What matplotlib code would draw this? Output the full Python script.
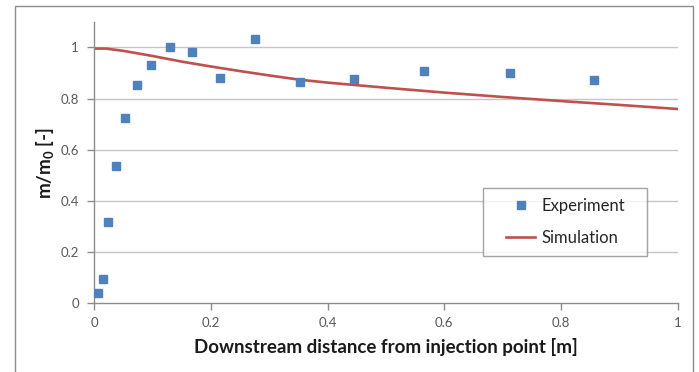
import matplotlib
matplotlib.use("Agg")
import matplotlib.pyplot as plt
from matplotlib.patches import Rectangle
from matplotlib.legend_handler import HandlerLine2D

# Data
exp_x = [0.007, 0.015, 0.024, 0.037, 0.053, 0.073, 0.098, 0.129, 0.168, 0.216,
         0.276, 0.352, 0.446, 0.565, 0.712, 0.857]
exp_y = [0.041, 0.095, 0.318, 0.538, 0.725, 0.854, 0.930, 1.000, 0.980, 0.881,
         1.031, 0.864, 0.877, 0.907, 0.900, 0.872]
sim_x = [0.0, 0.02, 0.05, 0.1, 0.15, 0.2, 0.25, 0.3, 0.35, 0.4, 0.5, 0.6, 0.7,
         0.8, 0.9, 1.0]
sim_y = [0.995, 0.995, 0.986, 0.966, 0.944, 0.925, 0.907, 0.890, 0.874, 0.862,
         0.842, 0.823, 0.806, 0.790, 0.775, 0.759]
x_ticks = [0, 0.2, 0.4, 0.6, 0.8, 1]
x_tick_labels = ["0", "0.2", "0.4", "0.6", "0.8", "1"]
y_ticks = [0, 0.2, 0.4, 0.6, 0.8, 1]
y_tick_labels = ["0", "0.2", "0.4", "0.6", "0.8", "1"]

plt.rcParams['font.family'] = ['Lato', 'DejaVu Sans']
plt.rcParams['mathtext.fontset'] = 'custom'
plt.rcParams['mathtext.rm'] = 'Lato:bold'
plt.rcParams['mathtext.bf'] = 'Lato:bold'
plt.rcParams['mathtext.it'] = 'Lato:bold'

W, H = 699, 372
fig = plt.figure(figsize=(W / 100, H / 100), dpi=100)
fig.patch.set_facecolor('white')
fig.patches.append(Rectangle((15 / W, -0.01), (693 - 15) / W, 1 - 5.7 / H + 0.01,
                             transform=fig.transFigure, fill=False,
                             edgecolor='#8c8c8c', linewidth=1.0))

AX_W = 677.7 - 94.3
AX_H = 303.3 - 21.7
ax = fig.add_axes([94.3 / W, 1 - 303.3 / H, AX_W / W, AX_H / H])
ax.set_xlim(0, 1)
ax.set_ylim(0, 1.1)

for yv in y_ticks[1:]:
    ax.axhline(yv, color='#c6c6c6', linewidth=1.0, zorder=0)

ax.plot(sim_x, sim_y, color='#c0504d', linewidth=1.9, label='Simulation', zorder=2)
ax.plot(exp_x, exp_y, linestyle='none', marker='s', markersize=5.8,
        color='#4f81bd', markeredgecolor='#4f81bd', label='Experiment', zorder=3)

for s in ['top', 'right']:
    ax.spines[s].set_visible(False)
for s in ['left', 'bottom']:
    ax.spines[s].set_color('#8c8c8c')
    ax.spines[s].set_linewidth(1.0)

ax.set_xticks(x_ticks)
ax.set_xticklabels(x_tick_labels)
ax.set_yticks(y_ticks)
ax.set_yticklabels(y_tick_labels)
ax.tick_params(axis='both', direction='out', length=5, width=1.0, color='#8c8c8c',
               labelsize=9.5, labelcolor='#595959')
ax.tick_params(axis='x', pad=5)
ax.tick_params(axis='y', pad=6)

ax.set_xlabel('Downstream distance from injection point [m]', fontsize=13.5,
              fontweight='bold', color='#1a1a1a', labelpad=6)
ax.set_ylabel(r'm/m$_\mathrm{0}$ [-]', fontsize=13.5, fontweight='bold',
              color='#1a1a1a', labelpad=3.5)

handles, labels = ax.get_legend_handles_labels()
leg_x0 = (482.7 - 94.3) / AX_W
leg_w = (646.7 - 482.7) / AX_W
leg_top = 1 - (188 - 21.7) / AX_H
leg_h = (259 - 188) / AX_H
leg = ax.legend([handles[1], handles[0]], [labels[1], labels[0]],
                loc='upper left', mode='expand',
                bbox_to_anchor=(leg_x0, leg_top - leg_h, leg_w, leg_h),
                frameon=True, fancybox=False, fontsize=12, handlelength=2.57,
                labelspacing=1.0, borderpad=0.57, handletextpad=0.36, borderaxespad=0,
                handler_map={h: HandlerLine2D(xpad=0.85) for h in handles})
leg.get_frame().set_edgecolor('#8c8c8c')
leg.get_frame().set_linewidth(1.0)
for t in leg.get_texts():
    t.set_color('#262626')

fig.savefig('out.png', dpi=100)
